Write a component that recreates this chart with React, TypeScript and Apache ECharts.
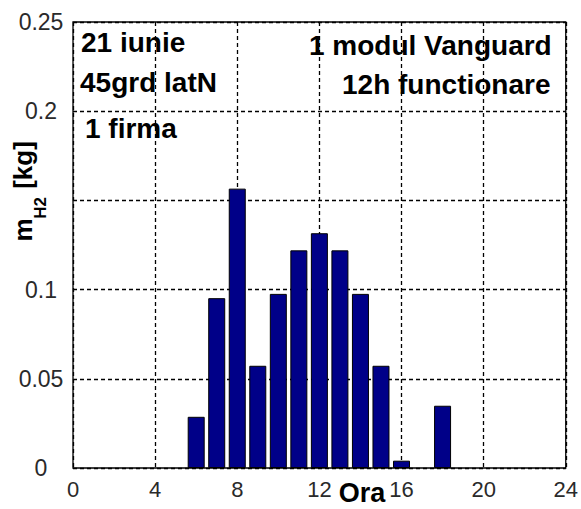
import React, { useEffect, useRef } from "react";
import * as echarts from "echarts";

const hours = [6, 7, 8, 9, 10, 11, 12, 13, 14, 15, 16, 18];
const massH2 = [0.0287, 0.0952, 0.1566, 0.0573, 0.0976, 0.122, 0.1316, 0.122, 0.0976, 0.0573, 0.0041, 0.0349];
const xTicks = [0, 4, 8, 12, 16, 20, 24];
const yTickLabels: Record<string, string> = { "0": "0", "0.05": "0.05", "0.1": "0.1", "0.15": "", "0.2": "0.2", "0.25": "0.25" };
const notesLeft = ["21 iunie", "45grd latN", "1 firma"];
const notesRight = ["1 modul Vanguard", "12h functionare"];

const FONT = "'Liberation Sans', Arial, sans-serif";

export default function App() {
  const ref = useRef<HTMLDivElement>(null);
  useEffect(() => {
    if (!ref.current) return;
    const chart = echarts.init(ref.current, null, { renderer: "svg" });
    const noteStyle = (text: string) => ({
      text,
      fontFamily: FONT,
      fontSize: 28,
      fontWeight: "bold",
      fill: "#000",
      align: "left",
      verticalAlign: "middle",
    });
    const gridLine = { show: true, lineStyle: { color: "#000", type: [4, 3], width: 1.3 } };
    chart.setOption({
      animation: false,
      backgroundColor: "#fff",
      grid: {
        left: 73,
        top: 22,
        right: 12,
        bottom: 41,
        show: true,
        borderColor: "#000",
        borderWidth: 1.3,
        backgroundColor: "transparent",
      },
      xAxis: {
        type: "value",
        min: xTicks[0],
        max: xTicks[xTicks.length - 1],
        interval: 4,
        axisLine: { show: false },
        axisTick: { show: false },
        axisLabel: {
          margin: 10,
          fontFamily: FONT,
          fontSize: 22,
          color: "#2a2a2a",
          formatter: (v: number) => (xTicks.includes(v) ? String(v) : ""),
        },
        splitLine: gridLine,
      },
      yAxis: {
        type: "value",
        min: 0,
        max: 0.25,
        interval: 0.05,
        axisLine: { show: false },
        axisTick: { show: false },
        axisLabel: {
          margin: 32,
          align: "center",
          fontFamily: FONT,
          fontSize: 23,
          color: "#2a2a2a",
          formatter: (v: number) => {
            const k = String(+v.toFixed(2));
            return yTickLabels[k] ?? k;
          },
        },
        splitLine: gridLine,
      },
      series: [
        {
          type: "bar",
          data: hours.map((h, i) => [h, massH2[i]]),
          barWidth: 17,
          itemStyle: { color: "#000088", borderColor: "#000", borderWidth: 1 },
        },
      ],
      graphic: [
        { type: "text", x: 81, y: 42, style: noteStyle(notesLeft[0]) },
        { type: "text", x: 80, y: 82, style: noteStyle(notesLeft[1]) },
        { type: "text", x: 85, y: 128, style: noteStyle(notesLeft[2]) },
        { type: "text", x: 309, y: 45, style: noteStyle(notesRight[0]) },
        { type: "text", x: 342, y: 84, style: noteStyle(notesRight[1]) },
        {
          type: "text",
          x: 362,
          y: 493,
          style: { text: "Ora", fontFamily: FONT, fontSize: 27, fontWeight: "bold", fill: "#000", align: "center", verticalAlign: "middle" },
        },
        {
          type: "text",
          x: 23,
          y: 230,
          rotation: Math.PI / 2,
          style: { text: "m", fontFamily: FONT, fontSize: 26, fontWeight: "bold", fill: "#000", align: "center", verticalAlign: "middle" },
        },
        {
          type: "text",
          x: 40,
          y: 208,
          rotation: Math.PI / 2,
          style: { text: "H2", fontFamily: FONT, fontSize: 17, fontWeight: "bold", fill: "#000", align: "center", verticalAlign: "middle" },
        },
        {
          type: "text",
          x: 23,
          y: 165,
          rotation: Math.PI / 2,
          style: { text: "[kg]", fontFamily: FONT, fontSize: 26, fontWeight: "bold", fill: "#000", align: "center", verticalAlign: "middle" },
        },
      ],
    });
    return () => chart.dispose();
  }, []);
  return <div ref={ref} style={{ position: "absolute", left: 0, top: 0, width: 581, height: 509 }} />;
}
